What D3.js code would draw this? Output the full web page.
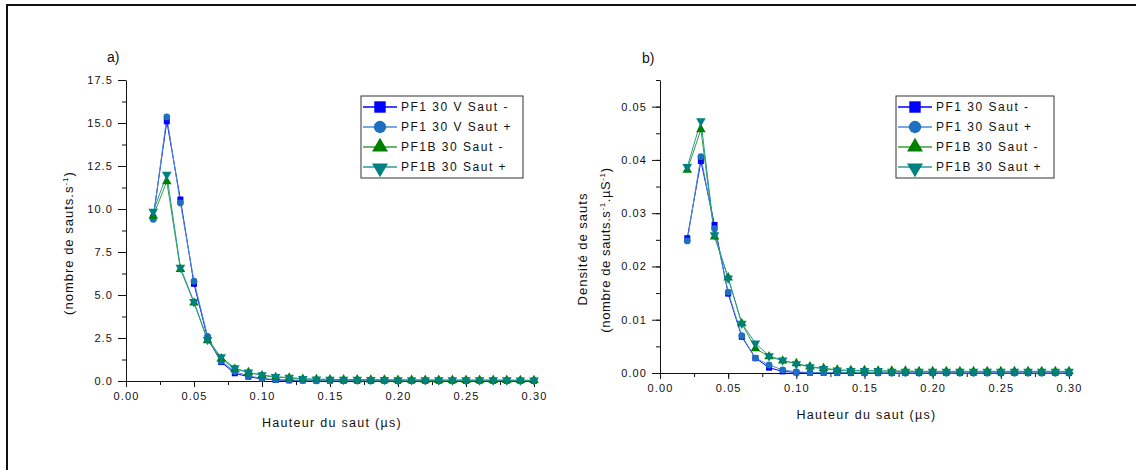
<!DOCTYPE html>
<html><head><meta charset="utf-8">
<script src="https://cdn.jsdelivr.net/npm/d3@7"></script>
<style>
body{margin:0;background:#fff;}
svg{display:block;}
text{font-family:"Liberation Sans",Arial,sans-serif;fill:#111;}
</style></head>
<body>
<script>
const xValues = [0.02,0.03,0.04,0.05,0.06,0.07,0.08,0.09,0.10,0.11,0.12,0.13,0.14,0.15,0.16,0.17,0.18,0.19,0.20,0.21,0.22,0.23,0.24,0.25,0.26,0.27,0.28,0.29,0.30];

// Chart a) nombre de sauts.s-1
const aPF1Moins = [9.5,15.1,10.55,5.65,2.5,1.1,0.45,0.25,0.12,0.06,0.04,0.03,0.02,0.02,0.01,0.01,0.01,0.01,0.01,0.01,0.01,0.01,0.01,0.01,0.01,0.01,0.01,0.01,0.01];
const aPF1Plus  = [9.4,15.35,10.35,5.8,2.6,1.15,0.55,0.3,0.15,0.08,0.05,0.04,0.03,0.02,0.02,0.02,0.01,0.01,0.01,0.01,0.01,0.01,0.01,0.01,0.01,0.01,0.01,0.01,0.01];
const aPF1BMoins= [9.6,11.6,6.5,4.55,2.35,1.3,0.7,0.5,0.32,0.22,0.18,0.12,0.1,0.09,0.08,0.08,0.07,0.07,0.06,0.06,0.06,0.05,0.05,0.05,0.05,0.05,0.05,0.04,0.04];
const aPF1BPlus = [9.85,12.0,6.6,4.6,2.4,1.4,0.75,0.5,0.35,0.25,0.2,0.13,0.1,0.09,0.08,0.08,0.07,0.07,0.06,0.06,0.06,0.05,0.05,0.05,0.05,0.05,0.05,0.04,0.04];

// Chart b) densité
const bPF1Moins = [0.0253,0.0398,0.0278,0.0149,0.0068,0.0028,0.0010,0.0003,0.0001,0.00005,0.00003,0.00002,0.00001,0,0,0,0,0,0,0,0,0,0,0,0,0,0,0,0];
const bPF1Plus  = [0.0248,0.0406,0.0271,0.0152,0.0070,0.0028,0.0015,0.0006,0.0002,0.0001,0.00006,0.00004,0.00003,0.00002,0.00001,0,0,0,0,0,0,0,0,0,0,0,0,0,0];
const bPF1BMoins= [0.0381,0.0457,0.0256,0.0179,0.0093,0.0046,0.0031,0.0023,0.0018,0.0012,0.0009,0.0006,0.0005,0.0005,0.0004,0.0004,0.0004,0.0003,0.0003,0.0003,0.0003,0.0003,0.0003,0.0003,0.0003,0.0003,0.0003,0.0003,0.0003];
const bPF1BPlus = [0.0387,0.0473,0.0259,0.0178,0.0093,0.0056,0.0032,0.0024,0.0017,0.0011,0.0008,0.0005,0.0004,0.0004,0.0004,0.0003,0.0003,0.0003,0.0003,0.0003,0.0003,0.0003,0.0003,0.0003,0.0003,0.0003,0.0003,0.0003,0.0003];

const namesA = ["PF1 30 V Saut -","PF1 30 V Saut +","PF1B 30 Saut -","PF1B 30 Saut +"];
const namesB = ["PF1 30 Saut -","PF1 30 Saut +","PF1B 30 Saut -","PF1B 30 Saut +"];
const xTicks = [0,0.05,0.10,0.15,0.20,0.25,0.30];
const yTicksA = [0,2.5,5,7.5,10,12.5,15,17.5];
const yTicksB = [0,0.01,0.02,0.03,0.04,0.05];

const styles = [
  {sym:d3.symbolSquare, fill:"#0000ff", line:"#0000ff", rot:0},
  {sym:d3.symbolCircle, fill:"#1f6fbf", line:"#4a8fd6", rot:0},
  {sym:d3.symbolTriangle, fill:"#008000", line:"#3a9e3a", rot:0},
  {sym:d3.symbolTriangle, fill:"#008080", line:"#2a9a9a", rot:180}
];

const W=1136,H=470;
const svg=d3.select("body").append("svg").attr("width",W).attr("height",H);
svg.append("rect").attr("width",W).attr("height",H).attr("fill","#fff");
// outer frame (top & left visible)
svg.append("rect").attr("x",7).attr("y",5).attr("width",W+10).attr("height",H+10)
  .attr("fill","none").attr("stroke","#111").attr("stroke-width",2);

function panel(cfg){
  const x=d3.scaleLinear().domain([0,0.30]).range([cfg.x0,cfg.x1]);
  const y=d3.scaleLinear().domain([0,cfg.ymax]).range([cfg.y0,cfg.y1]);
  const g=svg.append("g");
  // minor ticks
  const xMinor=d3.range(0,0.3001,0.025);
  g.append("g").attr("transform",`translate(0,${cfg.y0})`)
    .call(d3.axisBottom(x).tickValues(xMinor).tickSize(4).tickFormat(""))
    .call(s=>s.select(".domain").remove());
  g.append("g").attr("transform",`translate(${cfg.x0},0)`)
    .call(d3.axisLeft(y).tickValues(cfg.yMinor).tickSize(4).tickFormat(""))
    .call(s=>s.select(".domain").remove());
  const xa=g.append("g").attr("transform",`translate(0,${cfg.y0})`)
    .call(d3.axisBottom(x).tickValues(xTicks).tickSize(6).tickSizeOuter(0).tickPadding(5).tickFormat(d3.format(".2f")));
  const ya=g.append("g").attr("transform",`translate(${cfg.x0},0)`)
    .call(d3.axisLeft(y).tickValues(cfg.yTicks).tickSize(8).tickSizeOuter(0).tickPadding(5).tickFormat(cfg.yFmt));
  g.selectAll(".domain").attr("stroke","#111");
  g.selectAll(".tick line").attr("stroke","#111");
  g.selectAll(".tick text").attr("font-family","'Liberation Sans',Arial,sans-serif")
    .attr("font-size",11).attr("letter-spacing","1.1px").attr("fill","#111");
  // series
  const line=d3.line().x((d,i)=>x(xValues[i])).y(d=>y(d));
  cfg.series.forEach((s,k)=>{
    const st=styles[k];
    g.append("path").datum(s).attr("d",line).attr("fill","none")
      .attr("stroke",st.line).attr("stroke-width",1);
  });
  cfg.series.forEach((s,k)=>{
    const st=styles[k];
    const size = st.sym===d3.symbolTriangle?40:36;
    g.append("g").selectAll("path").data(s).join("path")
      .attr("d",d3.symbol().type(st.sym).size(size))
      .attr("transform",(d,i)=>`translate(${x(xValues[i])},${y(d)}) rotate(${st.rot})`)
      .attr("fill",st.fill);
  });
  // legend
  const L=cfg.legend;
  g.append("rect").attr("x",L.x).attr("y",L.y).attr("width",L.w).attr("height",82)
    .attr("fill","#fff").attr("stroke","#333").attr("stroke-width",1);
  cfg.names.forEach((n,k)=>{
    const st=styles[k];
    const cy=L.y+11+k*20;
    g.append("line").attr("x1",L.x+2).attr("x2",L.x+36).attr("y1",cy).attr("y2",cy)
      .attr("stroke",st.line).attr("stroke-width",1.3);
    const size = st.sym===d3.symbolTriangle?110:(st.sym===d3.symbolCircle?120:130);
    g.append("path").attr("d",d3.symbol().type(st.sym).size(size)())
      .attr("transform",`translate(${L.x+19},${cy+(st.rot?1:0)}) rotate(${st.rot})`).attr("fill",st.fill);
    g.append("text").attr("x",L.x+40).attr("y",cy+4).attr("font-size",12)
      .attr("letter-spacing","1.5px").text(n);
  });
  // titles
  g.append("text").attr("x",cfg.label.x).attr("y",cfg.label.y).attr("font-size",14).text(cfg.label.t);
  g.append("text").attr("x",(cfg.x0+cfg.x1)/2+2).attr("y",cfg.y0+46).attr("text-anchor","middle")
    .attr("font-size",12.5).attr("letter-spacing","1.3px").text("Hauteur du saut (µs)");
  return {g,x,y};
}

const pa=panel({x0:126,x1:534,y0:381,y1:80,ymax:17.5,yTicks:yTicksA,yMinor:d3.range(0,17.51,1.25),
  yFmt:d3.format(".1f"),series:[aPF1Moins,aPF1Plus,aPF1BMoins,aPF1BPlus],names:namesA,
  legend:{x:361,y:96,w:162},label:{x:107,y:62,t:"a)"}});
const ta=pa.g.append("text").attr("transform","translate(73,243) rotate(-90)").attr("text-anchor","middle")
  .attr("font-size",13).attr("letter-spacing","1px");
ta.append("tspan").text("(nombre de sauts.s");
ta.append("tspan").attr("font-size",8).attr("dy",-5).text("-1");
ta.append("tspan").attr("dy",5).text(")");

const pb=panel({x0:660,x1:1069,y0:373,y1:80,ymax:0.055,yTicks:yTicksB,yMinor:d3.range(0,0.0551,0.005),
  yFmt:d3.format(".2f"),series:[bPF1Moins,bPF1Plus,bPF1BMoins,bPF1BPlus],names:namesB,
  legend:{x:896,y:96,w:158},label:{x:642,y:63,t:"b)"}});
pb.g.append("text").attr("transform","translate(587,249) rotate(-90)").attr("text-anchor","middle")
  .attr("font-size",13).attr("letter-spacing","1px").text("Densité de sauts");
const tb=pb.g.append("text").attr("transform","translate(610,250) rotate(-90)").attr("text-anchor","middle")
  .attr("font-size",13).attr("letter-spacing","0.6px");
tb.append("tspan").text("(nombre de sauts.s");
tb.append("tspan").attr("font-size",8).attr("dy",-5).text("-1");
tb.append("tspan").attr("dy",5).text(".µS");
tb.append("tspan").attr("font-size",8).attr("dy",-5).text("-1");
tb.append("tspan").attr("dy",5).text(")");
</script>
</body></html>
